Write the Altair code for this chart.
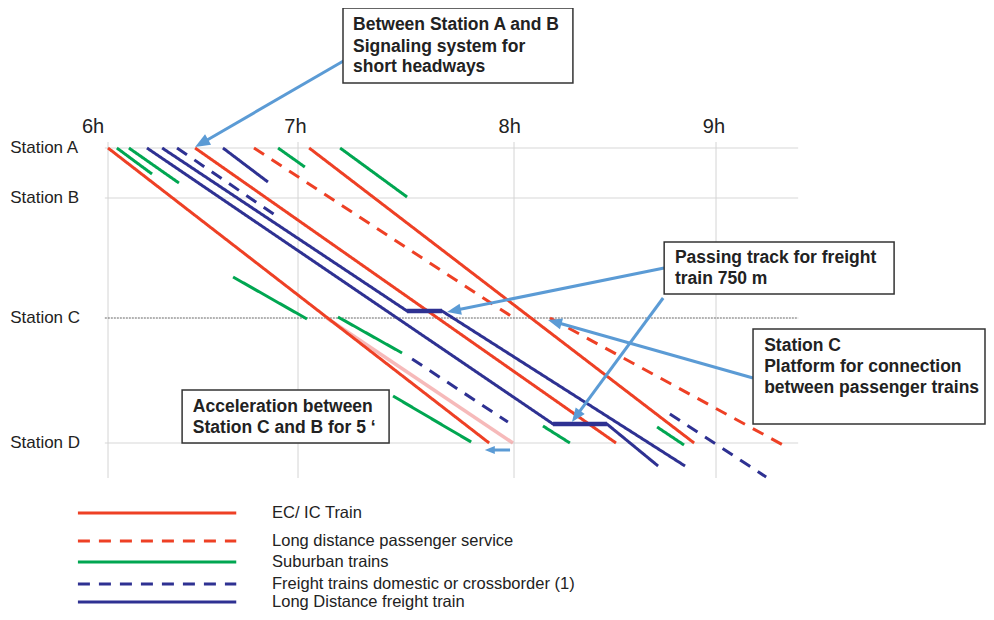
import math
import altair as alt
import pandas as pd

# ---------------- data ----------------
stations = ["Station A", "Station B", "Station C", "Station D"]
station_km = [0.0, 5.0, 17.0, 29.5]

hour_labels = ["6h", "7h", "8h", "9h"]
hour_minutes = [0, 60, 120, 180]          # minutes after 6:00
hour_label_minutes = [-4.7, 59.2, 118.8, 179.4]

categories = [
    "EC/ IC Train",
    "Long distance passenger service",
    "Suburban trains",
    "Freight trains domestic or crossborder (1)",
    "Long Distance freight train",
]

# train paths: (minutes after 6:00, km from Station A)
ec_ic_trains = [
    [(0.0, 0.0), (113.1, 29.5)],
    [(27.5, 0.0), (150.3, 29.5)],
    [(63.1, 0.0), (173.5, 29.5)],
]
long_distance_passenger = [
    [(46.1, 0.0), (120.0, 17.0)],
    [(130.7, 17.0), (199.9, 29.7)],
]
suburban_trains = [
    [(2.8, 0.0), (13.9, 2.6)],
    [(6.6, 0.0), (22.4, 3.5)],
    [(53.7, 0.0), (61.9, 1.9)],
    [(71.7, 0.0), (90.3, 4.9)],
    [(39.5, 12.9), (62.5, 17.1)],
    [(71.1, 16.9), (88.9, 20.5)],
    [(86.4, 24.8), (108.1, 29.4)],
    [(128.6, 27.8), (136.6, 29.5)],
    [(162.5, 27.9), (170.5, 29.7)],
]
freight_domestic = [
    [(21.8, 0.0), (52.7, 6.7)],
    [(91.7, 21.1), (118.3, 27.4)],
    [(166.3, 26.6), (194.9, 32.9)],
]
long_distance_freight = [
    [(12.3, 0.0), (131.6, 27.6), (147.6, 27.6), (162.8, 31.8)],
    [(17.1, 0.0), (90.3, 16.3), (100.0, 16.3), (170.8, 31.8)],
    [(36.3, 0.0), (50.5, 3.4)],
]
slower_path = [(68.0, 17.0), (119.7, 29.5)]   # pink: path without acceleration

passing_start = [90.3, 131.6]
passing_end = [100.0, 147.6]
passing_km = [16.3, 27.6]

# annotation boxes (minutes, km)
box_t0 = [72.5, 164.6, 191.0, 23.4]
box_t1 = [137.5, 232.9, 259.9, 85.3]
box_d0 = [-14.0, 9.4, 18.1, 24.2]
box_d1 = [-6.5, 14.6, 27.6, 29.5]
box_text_t = [75.3, 167.8, 194.3, 26.8]
box_lines = [
    ["Between Station A and B", "Signaling system for", "short headways"],
    ["Passing track for freight", "train 750 m"],
    ["Station C", "Platform for connection", "between passenger trains"],
    ["Acceleration between", "Station C and B for 5 \u2018"],
]
box_line_km = [
    [-12.3, -10.1, -8.1],
    [11.0, 13.1],
    [19.8, 21.9, 24.0],
    [25.9, 28.0],
]

# arrows: tail (t, km) -> tip (t, km)
arrow_tail_t = [73.1, 164.6, 164.3, 191.0, 118.9]
arrow_tail_d = [-8.8, 12.0, 15.0, 23.0, 30.2]
arrow_tip_t = [27.5, 101.4, 137.2, 130.1, 111.9]
arrow_tip_d = [-0.1, 16.4, 27.4, 17.2, 30.2]
arrow_head = [15, 14, 14, 14, 10]

# legend rows (km position under the graph)
legend_km = [36.5, 39.3, 41.4, 43.6, 45.4]
legend_t0, legend_t1, legend_text_t = -9.5, 40.5, 51.8

# ---------------- scales ----------------
X_DOM = [0, 60, 120, 180]
X_RNG = [100, 290, 506, 708]
Y_DOM = [0, 29.5]
Y_RNG = [140, 435]


def px(t):
    i = 0 if t < 60 else (1 if t < 120 else 2)
    return X_RNG[i] + (t - X_DOM[i]) * (X_RNG[i + 1] - X_RNG[i]) / (X_DOM[i + 1] - X_DOM[i])


def inv_px(x):
    i = 0 if x < X_RNG[1] else (1 if x < X_RNG[2] else 2)
    return X_DOM[i] + (x - X_RNG[i]) * (X_DOM[i + 1] - X_DOM[i]) / (X_RNG[i + 1] - X_RNG[i])


def py(d):
    return Y_RNG[0] + (d - Y_DOM[0]) * (Y_RNG[1] - Y_RNG[0]) / (Y_DOM[1] - Y_DOM[0])


def inv_py(y):
    return Y_DOM[0] + (y - Y_RNG[0]) * (Y_DOM[1] - Y_DOM[0]) / (Y_RNG[1] - Y_RNG[0])


xs = alt.Scale(domain=X_DOM, range=X_RNG, nice=False, zero=False)
ys = alt.Scale(domain=Y_DOM, range=Y_RNG, nice=False, zero=False)

RED = "#ee4025"
GREEN = "#00a651"
BLUE = "#2e3192"
ARROW = "#5b9bd5"
FONT = "Liberation Sans"

# ---------------- tables ----------------
rows = []
groups = [
    (categories[0], ec_ic_trains),
    (categories[1], long_distance_passenger),
    (categories[2], suburban_trains),
    (categories[3], freight_domestic),
    (categories[4], long_distance_freight),
]
for cat, paths in groups:
    for k, path in enumerate(paths):
        for s, (t, d) in enumerate(path):
            rows.append({"id": f"{cat}-{k}", "cat": cat, "seq": s, "t": t, "d": d})
for i, cat in enumerate(categories):
    rows.append({"id": f"leg-{i}", "cat": cat, "seq": 0, "t": legend_t0, "d": legend_km[i]})
    rows.append({"id": f"leg-{i}", "cat": cat, "seq": 1, "t": legend_t1, "d": legend_km[i]})
trains = pd.DataFrame(rows)

slow_df = pd.DataFrame({"t": [p[0] for p in slower_path], "d": [p[1] for p in slower_path], "seq": [0, 1]})
passing_df = pd.DataFrame({"t": passing_start, "t2": passing_end, "d": passing_km})

vgrid = pd.DataFrame({"t": hour_minutes, "d": [-0.6] * 4, "d2": [33.0] * 4})
hgrid = pd.DataFrame({"name": stations, "d": station_km, "t": [-1.0] * 4, "t2": [204.4] * 4})
hlab = pd.DataFrame({"label": hour_labels, "t": hour_label_minutes, "d": [-2.1] * 4})
slab = pd.DataFrame({"label": stations, "d": station_km, "t": [-30.9] * 4})

boxes = pd.DataFrame({"t": box_t0, "t2": box_t1, "d": box_d0, "d2": box_d1})
btext = pd.DataFrame([
    {"label": line, "t": box_text_t[b], "d": box_line_km[b][j]}
    for b in range(len(box_lines)) for j, line in enumerate(box_lines[b])
])

shafts, heads = [], []
for i in range(len(arrow_tail_t)):
    x0, y0 = px(arrow_tail_t[i]), py(arrow_tail_d[i])
    x1, y1 = px(arrow_tip_t[i]), py(arrow_tip_d[i])
    vx, vy = x1 - x0, y1 - y0
    n = math.hypot(vx, vy)
    ux, uy = vx / n, vy / n
    L = arrow_head[i]
    ex, ey = x1 - ux * L * 0.6, y1 - uy * L * 0.6
    shafts.append({"t": arrow_tail_t[i], "d": arrow_tail_d[i], "t2": inv_px(ex), "d2": inv_py(ey)})
    ang = math.degrees(math.atan2(ux, -uy)) % 360
    heads.append({"t": arrow_tip_t[i], "d": arrow_tip_d[i], "ang": ang, "size": (2 * L) ** 2})
shaft_df = pd.DataFrame(shafts)
head_df = pd.DataFrame(heads)

legend_df = pd.DataFrame({"label": categories, "d": legend_km, "t": [legend_text_t] * 5})

# ---------------- layers ----------------
X = lambda f="t": alt.X(f"{f}:Q", scale=xs, axis=None)
Y = lambda f="d": alt.Y(f"{f}:Q", scale=ys, axis=None)

grid_v = alt.Chart(vgrid).mark_rule(color="#d4d4d4", strokeWidth=1).encode(
    x=X(), y=Y(), y2="d2:Q")
grid_h = alt.Chart(hgrid).mark_rule(strokeWidth=1).encode(
    x=X(), x2="t2:Q", y=Y(),
    color=alt.condition(alt.datum.name == "Station C", alt.value("#666666"), alt.value("#d4d4d4")),
    strokeDash=alt.condition(alt.datum.name == "Station C", alt.value([2, 1]), alt.value([1, 0])),
)

slow = alt.Chart(slow_df).mark_line(color="#f29c9c", strokeWidth=3.5, opacity=0.7).encode(
    x=X(), y=Y(), order="seq:Q")

lines = alt.Chart(trains).mark_line(strokeWidth=3).encode(
    x=X(), y=Y(),
    detail="id:N", order="seq:Q",
    color=alt.Color("cat:N", scale=alt.Scale(domain=categories, range=[RED, RED, GREEN, BLUE, BLUE]), legend=None),
    strokeDash=alt.StrokeDash("cat:N", scale=alt.Scale(domain=categories,
                              range=[[1, 0], [12, 9], [1, 0], [12, 9], [1, 0]]), legend=None),
)

passing = alt.Chart(passing_df).mark_rule(color=BLUE, strokeWidth=4.5).encode(
    x=X(), x2="t2:Q", y=Y())

shaft = alt.Chart(shaft_df).mark_rule(color=ARROW, strokeWidth=3).encode(
    x=X(), y=Y(), x2="t2:Q", y2="d2:Q")
head = alt.Chart(head_df).mark_point(
    shape="M0,0L-0.4,1L0.4,1Z", filled=True, color=ARROW, opacity=1, strokeWidth=0
).encode(x=X(), y=Y(), angle=alt.Angle("ang:Q", scale=None), size=alt.Size("size:Q", scale=None))

box = alt.Chart(boxes).mark_rect(fill="white", stroke="#333333", strokeWidth=1.5).encode(
    x=X(), x2="t2:Q", y=Y(), y2="d2:Q")
box_txt = alt.Chart(btext).mark_text(
    align="left", baseline="middle", font=FONT, fontSize=17.5, fontWeight="bold", color="#222222"
).encode(x=X(), y=Y(), text="label:N")

hour_txt = alt.Chart(hlab).mark_text(
    align="center", baseline="middle", font=FONT, fontSize=20, color="#222222"
).encode(x=X(), y=Y(), text="label:N")
station_txt = alt.Chart(slab).mark_text(
    align="left", baseline="middle", font=FONT, fontSize=17, color="#222222"
).encode(x=X(), y=Y(), text="label:N")

legend_txt = alt.Chart(legend_df).mark_text(
    align="left", baseline="middle", font=FONT, fontSize=16.5, color="#222222"
).encode(x=X(), y=Y(), text="label:N")

chart = alt.layer(
    grid_v, grid_h, slow, lines, passing, shaft, head, box, box_txt,
    hour_txt, station_txt, legend_txt,
).properties(
    width=978, height=604, padding=0, background="white",
    autosize=alt.AutoSizeParams(type="none"),
).configure_view(stroke=None)

chart.save("out.html", embed_options={"renderer": "svg", "actions": False})
